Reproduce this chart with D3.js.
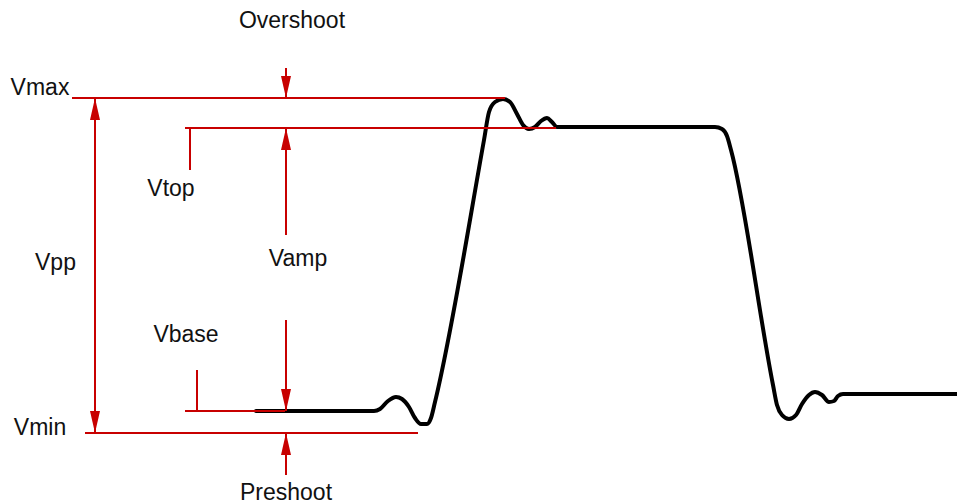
<!DOCTYPE html>
<html><head><meta charset="utf-8">
<script src="https://cdn.jsdelivr.net/npm/d3@7"></script>
<style>html,body{margin:0;padding:0;background:#fff;}svg{display:block;}</style>
</head><body>
<svg id="c" width="957" height="504"></svg>
<script>
// waveform samples: time (µs) and voltage (V)
const waveT = [2.56,3.74,3.80,3.88,3.96,4.02,4.09,4.15,4.21,4.27,4.31,4.35,4.84,4.89,4.95,5.03,5.10,5.17,5.23,5.29,5.35,5.41,5.47,5.52,5.57,6.00,7.00,7.15,7.22,7.27,7.31,7.73,7.77,7.82,7.89,7.96,8.02,8.09,8.15,8.22,8.29,8.34,8.38,8.43,9.57];
const waveV = [0.22,0.22,0.24,0.32,0.36,0.34,0.26,0.15,0.09,0.09,0.15,0.31,2.93,3.21,3.31,3.34,3.31,3.19,3.08,3.04,3.06,3.12,3.15,3.11,3.06,3.06,3.06,3.06,3.04,2.97,2.83,0.48,0.28,0.18,0.14,0.18,0.29,0.38,0.41,0.38,0.31,0.32,0.37,0.39,0.39];

// measurement levels
const levelNames = ["Vmax","Vtop","Vbase","Vmin"];
const levelValues = [3.35,3.05,0.22,0.00];
const levelStart = [0.72,1.85,1.85,0.85];
const levelEnd = [5.05,5.56,2.85,4.18];

// arrows: [time, from, to]
const arrowNames = ["Overshoot","VampTop","VampBase","Preshoot"];
const arrowT = [2.86,2.86,2.86,2.86];
const arrowFrom = [3.65,1.98,1.13,-0.42];
const arrowTo = [3.35,3.05,0.22,0.00];
const vppT = 0.95;

// ticks under labels
const tickT = [1.90,1.97];
const tickFrom = [3.05,0.63];
const tickTo = [2.63,0.22];

// labels
const labelText = ["Overshoot","Vmax","Vtop","Vpp","Vamp","Vbase","Vmin","Preshoot"];
const labelT = [2.92,0.40,1.71,0.555,2.98,1.86,0.40,2.86];
const labelV = [4.13,3.46,2.45,1.71,1.75,0.99,0.06,-0.59];

const W=957,H=504;
const x = d3.scaleLinear().domain([0,9.57]).range([0,W]);
const y = d3.scaleLinear().domain([0,3.35]).range([433,98]);
const red = "#c80000";
const svg = d3.select("#c");

const defs = svg.append("defs");
defs.append("marker").attr("id","ah").attr("viewBox","0 0 22 10")
  .attr("refX",22).attr("refY",5).attr("markerWidth",22).attr("markerHeight",10)
  .attr("markerUnits","userSpaceOnUse").attr("orient","auto-start-reverse")
  .append("path").attr("d","M0,0 L22,5 L0,10 Z").attr("fill",red);

// waveform
const pts = waveT.map((t,i)=>[t,waveV[i]]);
svg.append("path").datum(pts)
  .attr("d", d3.line().x(d=>x(d[0])).y(d=>y(d[1])).curve(d3.curveMonotoneX))
  .attr("fill","none").attr("stroke","#000").attr("stroke-width",4)
  .attr("stroke-linejoin","round").attr("stroke-linecap","round");

// level lines
svg.append("g").selectAll("line").data(levelValues).join("line")
  .attr("x1",(d,i)=>x(levelStart[i])).attr("x2",(d,i)=>x(levelEnd[i]))
  .attr("y1",d=>y(d)).attr("y2",d=>y(d))
  .attr("stroke",red).attr("stroke-width",2);

// ticks
svg.append("g").selectAll("line").data(tickT).join("line")
  .attr("x1",d=>x(d)).attr("x2",d=>x(d))
  .attr("y1",(d,i)=>y(tickFrom[i])).attr("y2",(d,i)=>y(tickTo[i]))
  .attr("stroke",red).attr("stroke-width",2);

// arrows
svg.append("g").selectAll("line").data(arrowT).join("line")
  .attr("x1",d=>x(d)).attr("x2",d=>x(d))
  .attr("y1",(d,i)=>y(arrowFrom[i])).attr("y2",(d,i)=>y(arrowTo[i]))
  .attr("stroke",red).attr("stroke-width",2).attr("marker-end","url(#ah)");

// Vpp double arrow
svg.append("line").attr("x1",x(vppT)).attr("x2",x(vppT))
  .attr("y1",y(levelValues[3])).attr("y2",y(levelValues[0]))
  .attr("stroke",red).attr("stroke-width",2)
  .attr("marker-end","url(#ah)").attr("marker-start","url(#ah)");

// labels
svg.append("g").selectAll("text").data(labelText).join("text")
  .attr("x",(d,i)=>x(labelT[i])).attr("y",(d,i)=>y(labelV[i]))
  .attr("text-anchor","middle").attr("dominant-baseline","central")
  .attr("font-family","'Liberation Sans', Arial, sans-serif").attr("font-size",23)
  .attr("fill","#111").text(d=>d);
</script>
</body></html>
